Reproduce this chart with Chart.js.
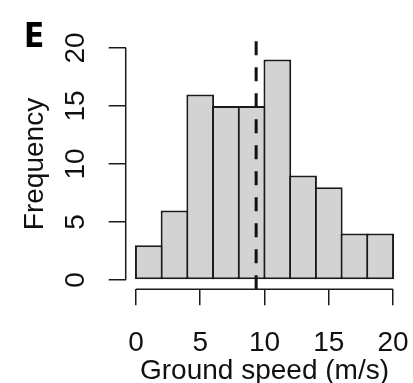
<!DOCTYPE html>
<html>
<head>
<meta charset="utf-8">
<script src="https://cdn.jsdelivr.net/npm/chart.js@4"></script>
<style>
  body { margin: 0; background: #fff; }
  #wrap { width: 413px; height: 383px; position: relative; }
</style>
</head>
<body>
<div id="wrap"><canvas id="histChart"></canvas></div>
<script>
// Histogram of ground speed, 2 m/s bins
const binMids = [1, 3, 5, 7, 9, 11, 13, 15, 17, 19];
const counts = [3, 6, 16, 15, 15, 19, 9, 8, 4, 4];
const xTicks = [0, 5, 10, 15, 20];
const yTicks = [0, 5, 10, 15, 20];
const meanSpeed = 9.35;

const ink = '#1a1a1a';
const font = { family: '"Liberation Sans", Arial, sans-serif', size: 28 };

// keep chart area fixed: no extra room for overhanging tick labels
function noLabelPadding(s) {
  s.paddingLeft = 0; s.paddingRight = 0; s.paddingTop = 0; s.paddingBottom = 0;
}

// R style axes: line only from first to last tick, plus the dashed mean line and panel letter
const rAxes = {
  id: 'rAxes',
  afterDatasetsDraw(chart) {
    const { ctx, chartArea, scales: { x } } = chart;
    const px = x.getPixelForValue(meanSpeed);
    ctx.save();
    ctx.strokeStyle = '#111';
    ctx.lineWidth = 3;
    ctx.setLineDash([14, 12]);
    ctx.beginPath();
    ctx.moveTo(px, chartArea.bottom);
    ctx.lineTo(px, chartArea.top);
    ctx.stroke();
    ctx.restore();
  },
  afterDraw(chart) {
    const { ctx, chartArea, scales: { x, y } } = chart;
    ctx.save();
    ctx.strokeStyle = ink;
    ctx.lineWidth = 1.5;
    ctx.beginPath();
    ctx.moveTo(chartArea.left, y.getPixelForValue(yTicks[0]));
    ctx.lineTo(chartArea.left, y.getPixelForValue(yTicks[yTicks.length - 1]));
    ctx.moveTo(x.getPixelForValue(xTicks[0]), chartArea.bottom);
    ctx.lineTo(x.getPixelForValue(xTicks[xTicks.length - 1]), chartArea.bottom);
    ctx.stroke();

    ctx.fillStyle = '#000';
    ctx.font = 'bold 33px "Liberation Sans Narrow", "DejaVu Sans Condensed", sans-serif';
    ctx.textBaseline = 'alphabetic';
    ctx.fillText('E', 24, 47);
    ctx.restore();
  }
};

const ctx = document.getElementById('histChart').getContext('2d');
new Chart(ctx, {
  type: 'bar',
  data: {
    datasets: [{
      data: binMids.map((m, i) => ({ x: m, y: counts[i] })),
      backgroundColor: '#d3d3d3',
      borderColor: ink,
      borderWidth: 2,
      borderSkipped: false,
      barPercentage: 1.08,
      categoryPercentage: 1
    }]
  },
  options: {
    responsive: true,
    maintainAspectRatio: false,
    animation: false,
    layout: { padding: { top: 38.7, right: 9.7, left: 0, bottom: 0 } },
    plugins: { legend: { display: false }, tooltip: { enabled: false } },
    scales: {
      x: {
        type: 'linear',
        min: -0.8,
        max: 20.8,
        offset: false,
        afterBuildTicks: s => { s.ticks = xTicks.map(v => ({ value: v })); },
        afterFit: s => { s.height = 93.7; noLabelPadding(s); },
        grid: { display: true, drawOnChartArea: false, drawTicks: true, tickLength: 16, color: ink, lineWidth: 1.5, offset: false },
        border: { display: false },
        ticks: { color: '#111', font, padding: 21.5, autoSkip: false, maxRotation: 0 },
        title: { display: true, text: 'Ground speed (m/s)', color: '#111', font: { ...font, lineHeight: '24px' }, padding: 0 }
      },
      y: {
        min: -0.8,
        max: 20.8,
        afterBuildTicks: s => { s.ticks = yTicks.map(v => ({ value: v })); },
        afterFit: s => { s.width = 125.7; noLabelPadding(s); },
        grid: { display: true, drawOnChartArea: false, drawTicks: true, tickLength: 17, color: ink, lineWidth: 1.5 },
        border: { display: false },
        ticks: { color: '#111', font, padding: 17, autoSkip: false, minRotation: 90, maxRotation: 90, crossAlign: 'center' },
        title: { display: true, text: 'Frequency', color: '#111', font: { ...font, lineHeight: '24px' }, padding: { top: 23, bottom: 0 } }
      }
    }
  },
  plugins: [rAxes]
});
</script>
</body>
</html>
